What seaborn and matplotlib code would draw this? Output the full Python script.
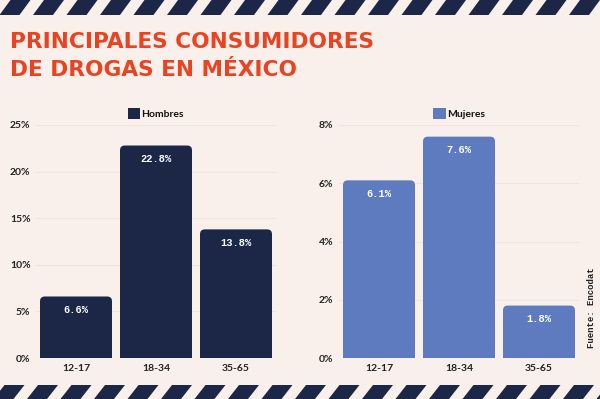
import numpy as np
import pandas as pd
import matplotlib
matplotlib.use("Agg")
import matplotlib.pyplot as plt
from matplotlib.patches import Polygon, FancyBboxPatch, Rectangle
import seaborn as sns

# data
edades = ["12-17", "18-34", "35-65"]
hombres = [6.6, 22.8, 13.8]
mujeres = [6.1, 7.6, 1.8]

bg = "#f9f0ec"
navy = "#1c2747"
azul = "#5e7bc0"
rojo = "#ea4321"

sns.set_theme(style="white")
plt.rcParams["font.family"] = ["Lato", "DejaVu Sans"]

fig = plt.figure(figsize=(6, 3.99), dpi=100)
fig.patch.set_facecolor(bg)

# diagonal stripes top and bottom (decoration)
def stripes(y0, y1, period=33.5, w=20, slant=11, off=0):
    x = -40 + off
    while x < 640:
        pts = [(x, y0), (x + w, y0), (x + w + slant, y1), (x + slant, y1)]
        pts = [(px / 600, 1 - py / 399) for px, py in pts]
        fig.patches.append(Polygon(pts, closed=True, transform=fig.transFigure,
                                   facecolor=navy, edgecolor="none"))
        x += period

stripes(15, 0, off=6)
stripes(399, 385, off=0)

for yy, txt in [(42, "PRINCIPALES CONSUMIDORES"), (70, "DE DROGAS EN MÉXICO")]:
    fig.text(10 / 600, 1 - yy / 399, txt, color=rojo, fontsize=15.6,
             fontweight="bold", family="DejaVu Sans",
             va="center", ha="left")

def panel(rect, vals, color, nombre, ymax, step):
    ax = fig.add_axes(rect)
    ax.set_facecolor(bg)
    df = pd.DataFrame({"edad": edades, "valor": vals, "sexo": nombre})
    sns.barplot(data=df, x="edad", y="valor", hue="sexo", palette=[color],
                width=0.9, ax=ax, saturation=1, linewidth=0)
    ax.set_ylim(0, ymax)
    ax.set_xlim(-0.5, 2.5)
    ticks = np.arange(0, ymax + 0.01, step)
    ax.set_yticks(ticks)
    ax.set_yticklabels([f"{t:g}%" for t in ticks], fontsize=7.5, fontweight="bold",
                       color="#222222")
    ax.set_xticks(range(len(edades)))
    ax.set_xticklabels(edades, fontsize=7.5, fontweight="bold", color="#222222")
    ax.tick_params(axis="both", length=0, pad=4)
    ax.yaxis.grid(True, color="#efe4df", linewidth=0.8)
    ax.set_axisbelow(True)
    for s in ax.spines.values():
        s.set_visible(False)
    ax.set_xlabel("")
    ax.set_ylabel("")
    # rounded top corners
    asp = (ymax / (rect[3] * 399)) / (3 / (rect[2] * 600))
    for p in list(ax.patches):
        x, w, h = p.get_x(), p.get_width(), p.get_height()
        if h <= 0:
            continue
        p.set_visible(False)
        ax.add_patch(FancyBboxPatch((x, 0), w, h, boxstyle="round,pad=0,rounding_size=0.06",
                                    mutation_aspect=asp, facecolor=color, edgecolor="none"))
        ax.add_patch(Rectangle((x, 0), w, h / 2, facecolor=color, edgecolor="none"))
    for i, v in enumerate(vals):
        ax.text(i, v - ymax * 0.037, f"{v:.1f}%",
                ha="center", va="top", color="white", fontsize=7.5,
                fontweight="bold", family="Liberation Mono")
    leg = ax.legend(loc="lower center", bbox_to_anchor=(0.5, 1.0), frameon=False,
                    handlelength=1.2, handleheight=1.2, handletextpad=0.1,
                    fontsize=7.5, borderaxespad=0.2)
    for t in leg.get_texts():
        t.set_fontweight("bold")
        t.set_color("#111111")
    return ax

panel([36 / 600, 1 - 358 / 399, 240 / 600, 233 / 399], hombres, navy, "Hombres", 25, 5)
panel([339 / 600, 1 - 358 / 399, 240 / 600, 233 / 399], mujeres, azul, "Mujeres", 8, 2)

fig.text(591 / 600, 1 - 308 / 399, "Fuente: Encodat", rotation=90, fontsize=6.5,
         fontweight="bold", family="Liberation Mono", color="#222222",
         ha="center", va="center")

fig.savefig("out.png", dpi=100, facecolor=bg)
